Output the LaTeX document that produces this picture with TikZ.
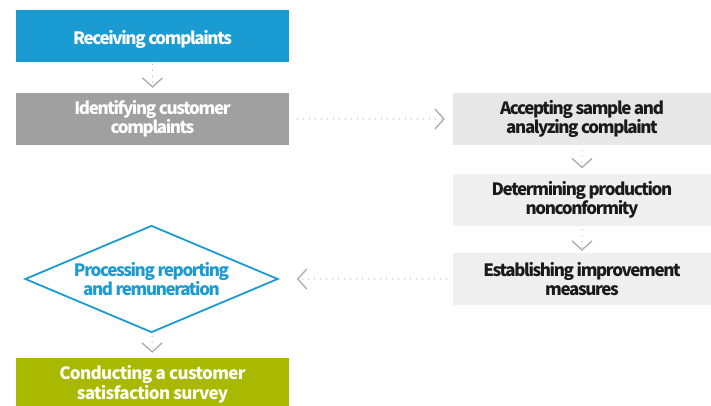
\documentclass[tikz,border=0pt]{standalone}
\usepackage{fontspec}
\setmainfont{Noto Sans CJK KR}[LetterSpace=-8]
\usepackage{xcolor}
\usepackage{tikz}
\usetikzlibrary{positioning, shapes.geometric, arrows.meta}
\definecolor{cmpblue}{HTML}{1A9BD1}
\definecolor{cmpgray}{HTML}{A0A0A0}
\definecolor{cmplight}{HTML}{E7E7E7}
\definecolor{cmppale}{HTML}{EFEFEF}
\definecolor{cmpgreen}{HTML}{A9B900}
\definecolor{cmparrow}{HTML}{ABABAB}
\definecolor{soft}{HTML}{1A1A1A}
\newcommand{\fsBox}{\fontsize{17}{19}\selectfont\bfseries}
\newcommand{\fsWide}{\fontsize{17}{20}\selectfont\bfseries\addfontfeature{LetterSpace=-4}}

\begin{document}
\begin{tikzpicture}[x=1pt, y=1pt,
  stepbox/.style={rectangle, inner sep=0pt, minimum height=52pt, align=center, font=\fsBox,
    execute at begin node={\rule{0pt}{21pt}}},
  leftbox/.style={stepbox, minimum width=273pt, text=white},
  rightbox/.style={stepbox, minimum width=258pt, text=soft},
  flow/.style={draw=cmparrow, line width=1.3pt, line cap=round, dash pattern=on 0pt off 6pt,
    -{Straight Barb[length=9pt, width=20pt, line width=1.3pt]}}]
  \useasboundingbox (0,0) rectangle (711,-406);
  \node[leftbox, fill=cmpblue] (recv) at (152.5,-36) {Receiving complaints};
  \node[leftbox, fill=cmpgray] (ident) at (152.5,-119) {Identifying customer\\complaints};
  \node[rightbox, fill=cmplight] (accept) at (582,-119) {Accepting sample and\\analyzing complaint};
  \node[rightbox, fill=cmppale] (nonconf) at (582,-199.5) {Determining production\\nonconformity};
  \node[rightbox, fill=cmppale] (improve) at (582,-279) {Establishing improvement\\measures};
  \node[diamond, draw=cmpblue, line width=1.8pt, text=cmpblue, aspect=2.4, inner sep=0pt,
    minimum width=253pt, minimum height=107pt, align=center, font=\fsBox,
    execute at begin node={\rule{0pt}{20pt}}]
    (remun) at (151.5,-279) {Processing reporting\\and remuneration};
  \node[leftbox, fill=cmpgreen, font=\fsWide] (survey) at (152.5,-384) {Conducting a customer\\satisfaction survey};
  \draw[flow, shorten <=2pt, shorten >=5pt] (recv) -- (ident);
  \draw[flow, shorten <=8pt, shorten >=8pt] (ident) -- (accept);
  \draw[flow, shorten <=5pt, shorten >=5pt] (accept) -- (nonconf);
  \draw[flow, shorten <=4pt, shorten >=2pt] (nonconf) -- (improve);
  \draw[flow, shorten <=6pt, shorten >=18pt] (improve) -- (remun);
  \draw[flow, shorten <=3pt, shorten >=5pt] (remun) -- (survey);
\end{tikzpicture}
\end{document}
